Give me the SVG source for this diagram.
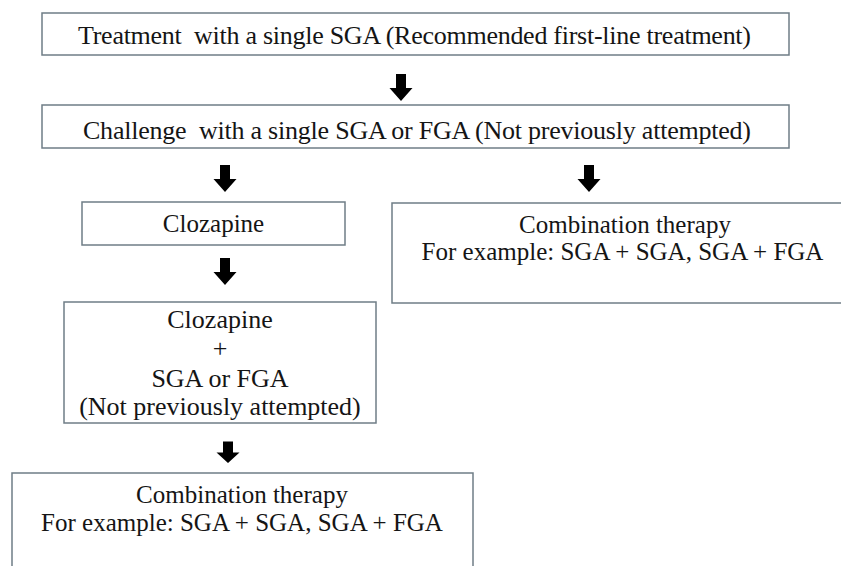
<svg xmlns="http://www.w3.org/2000/svg" xmlns:xlink="http://www.w3.org/1999/xlink" width="841" height="566" viewBox="0 0 841 566">
<style>
.box{fill:#fff;stroke:#6f7d86;stroke-width:1.5}
text{font-family:"Liberation Serif","Times New Roman",Times,"DejaVu Serif",serif;font-size:26px;fill:#151515;text-anchor:middle}
.s25{font-size:25px}
.arr{fill:#000}
</style>
<defs>
<path id="arrow" d="M-5,-27 H5 V-13 H11.5 L0,0 L-11.5,-13 H-5 Z"/>
</defs>
<rect width="841" height="566" fill="#fff"/>
<g id="n1">
<rect class="box" x="42" y="13" width="747" height="42"/>
<text x="414.5" y="44" xml:space="preserve" textLength="673" lengthAdjust="spacing">Treatment  with a single SGA (Recommended first-line treatment)</text>
</g>
<g id="n2">
<rect class="box" x="42" y="105" width="747" height="43"/>
<text x="417" y="139" xml:space="preserve" textLength="668" lengthAdjust="spacing">Challenge  with a single SGA or FGA (Not previously attempted)</text>
</g>
<g id="n3">
<rect class="box" x="82" y="202" width="263" height="43"/>
<text class="s25" x="213.5" y="232">Clozapine</text>
</g>
<g id="n4">
<rect class="box" x="392" y="203" width="460" height="100"/>
<text class="s25" x="625" y="233">Combination therapy</text>
<text class="s25" x="622.5" y="260">For example: SGA + SGA, SGA + FGA</text>
</g>
<g id="n5">
<rect class="box" x="64" y="302" width="312" height="121"/>
<text x="220" y="328">Clozapine</text>
<text x="220" y="357">+</text>
<text x="220" y="387">SGA or FGA</text>
<text x="220" y="415">(Not previously attempted)</text>
</g>
<g id="n6">
<rect class="box" x="12" y="473" width="461" height="110"/>
<text class="s25" x="242" y="503">Combination therapy</text>
<text class="s25" x="242" y="531">For example: SGA + SGA, SGA + FGA</text>
</g>
<g id="connectors" class="arr">
<use xlink:href="#arrow" transform="translate(401,101)"/>
<use xlink:href="#arrow" transform="translate(225,192)"/>
<use xlink:href="#arrow" transform="translate(589,192)"/>
<use xlink:href="#arrow" transform="translate(225,285)"/>
<use xlink:href="#arrow" transform="translate(228,463) scale(1,0.8)"/>
</g>
</svg>
